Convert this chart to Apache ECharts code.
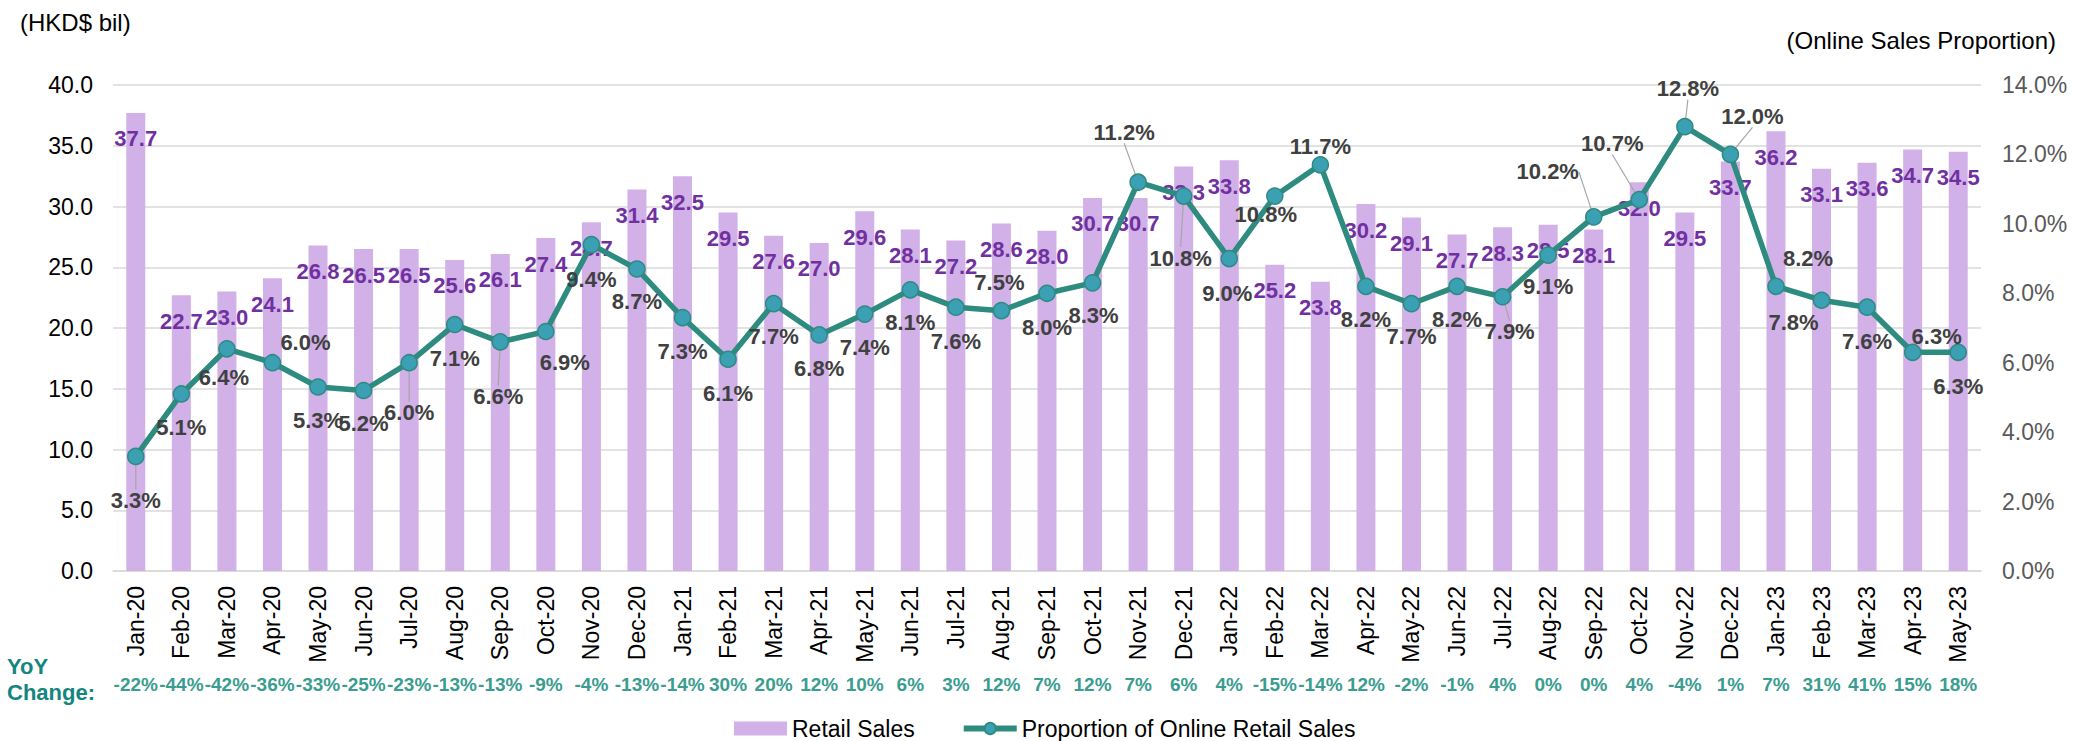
<!DOCTYPE html>
<html>
<head>
<meta charset="utf-8">
<title>Retail Sales and Online Proportion</title>
<script src="https://cdn.jsdelivr.net/npm/echarts@6/dist/echarts.min.js"></script>
<style>
  html, body { margin: 0; padding: 0; background: #fff; }
  #main { width: 2073px; height: 741px; }
</style>
</head>
<body>
<div id="main"></div>
<script type="text/javascript">
	var months = ['Jan-20', 'Feb-20', 'Mar-20', 'Apr-20', 'May-20', 'Jun-20', 'Jul-20', 'Aug-20', 'Sep-20', 'Oct-20', 'Nov-20', 'Dec-20',
		'Jan-21', 'Feb-21', 'Mar-21', 'Apr-21', 'May-21', 'Jun-21', 'Jul-21', 'Aug-21', 'Sep-21', 'Oct-21', 'Nov-21', 'Dec-21',
		'Jan-22', 'Feb-22', 'Mar-22', 'Apr-22', 'May-22', 'Jun-22', 'Jul-22', 'Aug-22', 'Sep-22', 'Oct-22', 'Nov-22', 'Dec-22',
		'Jan-23', 'Feb-23', 'Mar-23', 'Apr-23', 'May-23'];

	// retail sales, HKD$ bil
	var retailSales = [37.7, 22.7, 23.0, 24.1, 26.8, 26.5, 26.5, 25.6, 26.1, 27.4, 28.7, 31.4,
		32.5, 29.5, 27.6, 27.0, 29.6, 28.1, 27.2, 28.6, 28.0, 30.7, 30.7, 33.3,
		33.8, 25.2, 23.8, 30.2, 29.1, 27.7, 28.3, 28.5, 28.1, 32.0, 29.5, 33.7,
		36.2, 33.1, 33.6, 34.7, 34.5];

	// proportion of online retail sales, %
	var onlineShare = [3.3, 5.1, 6.4, 6.0, 5.3, 5.2, 6.0, 7.1, 6.6, 6.9, 9.4, 8.7,
		7.3, 6.1, 7.7, 6.8, 7.4, 8.1, 7.6, 7.5, 8.0, 8.3, 11.2, 10.8,
		9.0, 10.8, 11.7, 8.2, 7.7, 8.2, 7.9, 9.1, 10.2, 10.7, 12.8, 12.0,
		8.2, 7.8, 7.6, 6.3, 6.3];

	// YoY change row under the month labels
	var yoyChange = ['-22%', '-44%', '-42%', '-36%', '-33%', '-25%', '-23%', '-13%', '-13%', '-9%', '-4%', '-13%',
		'-14%', '30%', '20%', '12%', '10%', '6%', '3%', '12%', '7%', '12%', '7%', '6%',
		'4%', '-15%', '-14%', '12%', '-2%', '-1%', '4%', '0%', '0%', '4%', '-4%', '1%',
		'7%', '31%', '41%', '15%', '18%'];

	// where each percentage label sits relative to its point (px)
	var labelDx = [0, 0, -3, 33, 0, 0, 0, 0, -2, 19, 0, 0,
		0, 0, 0, 0, 0, 0, 0, -2, 0, 1, -14, -3,
		-2, -9, 0, 0, 0, 0, 7, 0, -46, -27, 3, 22,
		32, -28, 0, 24, 0];
	var labelDy = [44, 34, 29, -20, 33, 33, 50, 34, 55, 31, 35, 33,
		34, 34, 33, 34, 33, 33, 34, -28, 34, 33, -50, 62,
		35, 18, -18, 33, 33, 33, 35, 31, -45, -56, -38, -38,
		-28, 22, 34, -16, 34];
	var leaderIdx = [0, 6, 8, 22, 23, 30, 32, 33, 34, 35];

	var font = 'Liberation Sans, Arial, sans-serif';
	var chart = echarts.init(document.getElementById('main'), null, { renderer : 'svg' });

	var option = {
		animation : false,
		textStyle : { fontFamily : font },
		grid : { left : 113, right : 92, top : 85, bottom : 170 },
		graphic : [ {
			type : 'text', left : 20, top : 10,
			style : { text : '(HKD$ bil)', font : '24px ' + font, fill : '#000' }
		}, {
			type : 'text', right : 17, top : 28,
			style : { text : '(Online Sales Proportion)', font : '24px ' + font, fill : '#000' }
		}, {
			type : 'text', left : 7, top : 655,
			style : { text : 'YoY', font : 'bold 22px ' + font, fill : '#15857F' }
		}, {
			type : 'text', left : 7, top : 681,
			style : { text : 'Change:', font : 'bold 22px ' + font, fill : '#15857F' }
		} ],
		legend : {
			left : 729,
			top : 712,
			itemWidth : 53,
			itemHeight : 14,
			itemGap : 46,
			lineStyle : { width : 6 },
			textStyle : { fontSize : 23, color : '#000', fontFamily : font },
			data : [ { name : 'Retail Sales', icon : 'rect' }, { name : 'Proportion of Online Retail Sales' } ]
		},
		xAxis : [ {
			type : 'category',
			data : months,
			axisLine : { lineStyle : { color : '#D9D9D9', width : 1.5 } },
			axisTick : { show : false },
			axisLabel : { interval : 0, rotate : 90, margin : 15, fontSize : 23, color : '#000' }
		}, {
			type : 'category',
			data : yoyChange,
			position : 'bottom',
			offset : 100,
			axisLine : { show : false },
			axisTick : { show : false },
			axisLabel : { interval : 0, margin : 4, fontSize : 19, fontWeight : 'bold', color : '#3A9D90' }
		} ],
		yAxis : [ {
			type : 'value',
			min : 0,
			max : 40,
			interval : 5,
			axisLine : { show : false },
			axisTick : { show : false },
			axisLabel : {
				margin : 20, fontSize : 23, color : '#000',
				formatter : function(v) { return v.toFixed(1); }
			},
			splitLine : { lineStyle : { color : '#D9D9D9', width : 1.5 } }
		}, {
			type : 'value',
			min : 0,
			max : 14,
			interval : 2,
			axisLine : { show : false },
			axisTick : { show : false },
			axisLabel : {
				margin : 21, fontSize : 23, color : '#595959',
				formatter : function(v) { return v.toFixed(1) + '%'; }
			},
			splitLine : { show : false }
		} ],
		series : [ {
			name : 'Retail Sales',
			type : 'bar',
			data : retailSales,
			barWidth : 19,
			itemStyle : { color : '#D1B1E8' },
			label : {
				show : true,
				position : 'insideTop',
				distance : 15,
				color : '#7030A0',
				fontSize : 22,
				fontWeight : 'bold',
				formatter : function(p) { return p.value.toFixed(1); }
			}
		}, {
			name : 'Proportion of Online Retail Sales',
			type : 'line',
			yAxisIndex : 1,
			z : 3,
			data : onlineShare.map(function(v, i) {
				return { value : v, labelLine : { show : leaderIdx.indexOf(i) >= 0 } };
			}),
			symbol : 'circle',
			symbolSize : 16,
			lineStyle : { color : '#2E8B80', width : 5.5 },
			itemStyle : { color : '#3BA0B4', borderColor : '#2E8B80', borderWidth : 1.5 },
			label : {
				show : true,
				position : 'inside',
				color : '#404040',
				fontSize : 22,
				fontWeight : 'bold',
				formatter : function(p) { return p.value.toFixed(1) + '%'; }
			},
			labelLine : { show : false, lineStyle : { color : '#A6A6A6', width : 1.2 } },
			labelLayout : function(p) {
				return { dx : labelDx[p.dataIndex], dy : labelDy[p.dataIndex] };
			}
		} ]
	};
	chart.setOption(option);
</script>
</body>
</html>
